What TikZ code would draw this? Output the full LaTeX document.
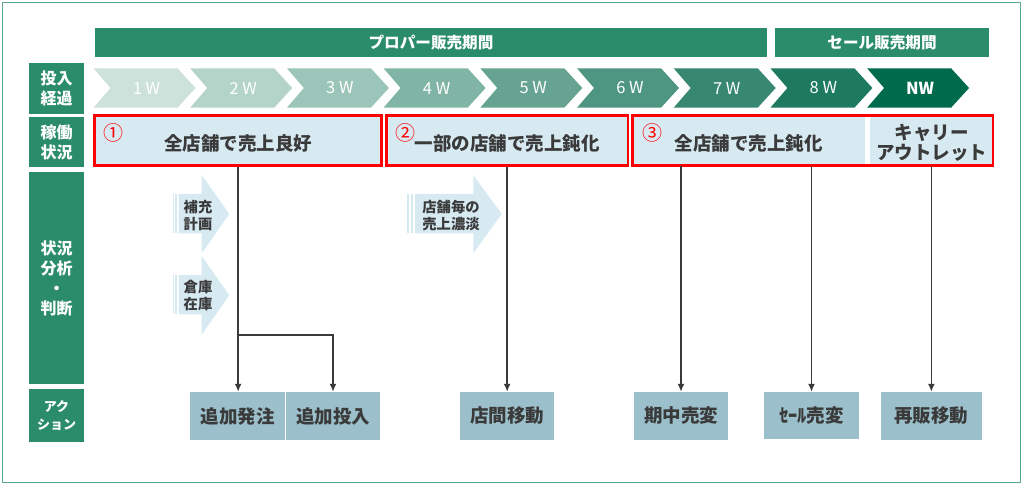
\documentclass[tikz,border=0pt]{standalone}
\usepackage{fontspec}
\setmainfont{Noto Sans CJK JP}
\usetikzlibrary{arrows.meta}
\definecolor{frame}{HTML}{5AAA8A}
\definecolor{hdrgreen}{HTML}{2B8C6C}
\definecolor{boxblue}{HTML}{D7EAF2}
\definecolor{actblue}{HTML}{9BC0CB}
\definecolor{ink}{HTML}{3A3A3A}
\definecolor{wa}{HTML}{CDE2DB}
\definecolor{wb}{HTML}{B4D4CA}
\definecolor{wc}{HTML}{9BC5B8}
\definecolor{wd}{HTML}{80B4A4}
\definecolor{we}{HTML}{66A491}
\definecolor{wf}{HTML}{4E9681}
\definecolor{wg}{HTML}{388770}
\definecolor{wh}{HTML}{1D7A5E}
\definecolor{wi}{HTML}{006A4D}
\newcommand{\sz}[2]{\fontsize{#1}{#2}\selectfont}
\newcommand{\wk}[4]{\fill[#2] (#1,68.3) -- ++(84,0) -- ++(18,19.7) -- ++(-18,19.7) -- ++(-84,0) -- ++(17,-19.7) -- cycle;
	\node[wlab] (#3) at (#1+53,88) {#4};}
\tikzset{
	hdr/.style={fill=hdrgreen,text=white,inner sep=0,minimum height=29pt,font=\bfseries\sz{15.6}{19}},
	side/.style={fill=hdrgreen,text=white,inner sep=0,minimum width=55pt,align=center,font=\bfseries\sz{16}{20}},
	wlab/.style={text=white,font=\sz{16.5}{19}},
	stat/.style={fill=boxblue,inner sep=0,minimum height=49.8pt},
	stattxt/.style={text=ink,font=\bfseries\sz{18.5}{20},align=center},
	num/.style={text=red,font=\sz{20}{20}},
	redframe/.style={draw=red,line width=2.5pt},
	act/.style={fill=actblue,text=ink,inner sep=0,minimum height=48pt,font=\bfseries\sz{18.5}{20}},
	pale/.style={fill=boxblue},
	note/.style={text=ink,inner sep=0,font=\bfseries\sz{14.3}{17.3},align=left},
	link/.style={draw=ink,line width=1.6pt,-{Latex[length=8pt,width=7pt]}}
}
\begin{document}
\begin{tikzpicture}[x=1pt,y=-1pt]
			\useasboundingbox (0,0) rectangle (1024,486);
			\draw[frame,line width=1.5pt] (2.5,2.5) rectangle (1020.5,482.5);
			
			\node[hdr,minimum width=672pt] (p1) at (431,42.5) {プロパー販売期間};
			\node[hdr,minimum width=214pt] (p2) at (882,42.5) {セール販売期間};
			
			\node[side,minimum height=51pt] (l1) at (56.5,88.5) {投入\\経過};
			\node[side,minimum height=50pt] (l2) at (56.5,142) {稼働\\状況};
			\node[side,minimum height=212pt] (l3) at (56.5,278) {状況\\分析\\・\\判断};
			\node[side,minimum height=53pt,font=\bfseries\sz{13}{17.6}] (l4) at (56.5,415.5) {アク\\ション};
			
			\wk{93.5}{wa}{w1}{1 W}
			\wk{190.2}{wb}{w2}{2 W}
			\wk{286.9}{wc}{w3}{3 W}
			\wk{383.6}{wd}{w4}{4 W}
			\wk{480.3}{we}{w5}{5 W}
			\wk{577.0}{wf}{w6}{6 W}
			\wk{673.7}{wg}{w7}{7 W}
			\wk{770.4}{wh}{w8}{8 W}
			\wk{867.1}{wi}{w9}{\bfseries NW}
			
			\node[stat,redframe,minimum width=287.1pt] (s1) at (238.15,140.5) {};
			\node[stat,redframe,minimum width=241.7pt] (s2) at (507.15,140.5) {};
			\node[stat,minimum width=232.1pt] (s3) at (748.65,140.5) {};
			\node[stat,minimum width=123.3pt] (s4) at (931.35,140.5) {};
			\draw[redframe] (s3.north west) rectangle (s4.south east);
			
			\node[stattxt] (t1) at (238,143.3) {全店舗で売上良好};
			\node[stattxt] (t2) at (507,143.3) {一部の店舗で売上鈍化};
			\node[stattxt] (t3) at (748.5,143.3) {全店舗で売上鈍化};
			\node[stattxt] (t4) at (931.5,143.3) {キャリー\\アウトレット};
			\node[num] (n1) at (113,133) {①};
			\node[num] (n2) at (405,133) {②};
			\node[num] (n3) at (652,133) {③};
			
			\fill[pale] (172.5,194) rectangle (174,233.3);
			\fill[pale] (175.3,194) rectangle (177.3,233.3);
			\fill[pale] (178.5,194) -- (201.7,194) -- (201.7,175) -- (229.3,214) -- (201.7,253.3) -- (201.7,233.3) -- (178.5,233.3) -- cycle;
			\fill[pale] (172.5,275) rectangle (174,314.3);
			\fill[pale] (175.3,275) rectangle (177.3,314.3);
			\fill[pale] (178.5,275) -- (201.7,275) -- (201.7,256) -- (229.3,295.3) -- (201.7,334.6) -- (201.7,314.3) -- (178.5,314.3) -- cycle;
			\fill[pale] (406.5,194) rectangle (408.5,233.3);
			\fill[pale] (410.8,194) rectangle (413,233.3);
			\fill[pale] (415,194) -- (473.3,194) -- (473.3,175) -- (501.7,214) -- (473.3,253.3) -- (473.3,233.3) -- (415,233.3) -- cycle;
			\node[note] (m1) at (198,215.6) {補充\\計画};
			\node[note] (m2) at (198,295.3) {倉庫\\在庫};
			\node[note] (m3) at (451,215.4) {店舗毎の\\売上濃淡};
			
			\node[act,minimum width=95pt] (a1) at (237.5,416) {追加発注};
			\node[act,minimum width=94pt] (a2) at (333,416) {追加投入};
			\node[act,minimum width=94pt] (a3) at (507,416) {店間移動};
			\node[act,minimum width=93.3pt] (a4) at (681,416) {期中売変};
			\node[act,minimum width=94.3pt,minimum height=47pt] (a5) at (811.5,415.5) {ｾｰﾙ売変};
			\node[act,minimum width=101.3pt] (a6) at (931.4,416) {再販移動};
			
			\coordinate (j1) at (238,335);
			\draw[link] (s1.south) -- (s1.south |- a1.north);
			\draw[link] (j1) -| (a2.north);
			\draw[link] (s2.south) -- (s2.south |- a3.north);
			\draw[link] (a4.north |- s3.south) -- (a4.north);
			\draw[link] (a5.north |- s3.south) -- (a5.north);
			\draw[link] (s4.south) -- (s4.south |- a6.north);
			
		\end{tikzpicture}
\end{document}
